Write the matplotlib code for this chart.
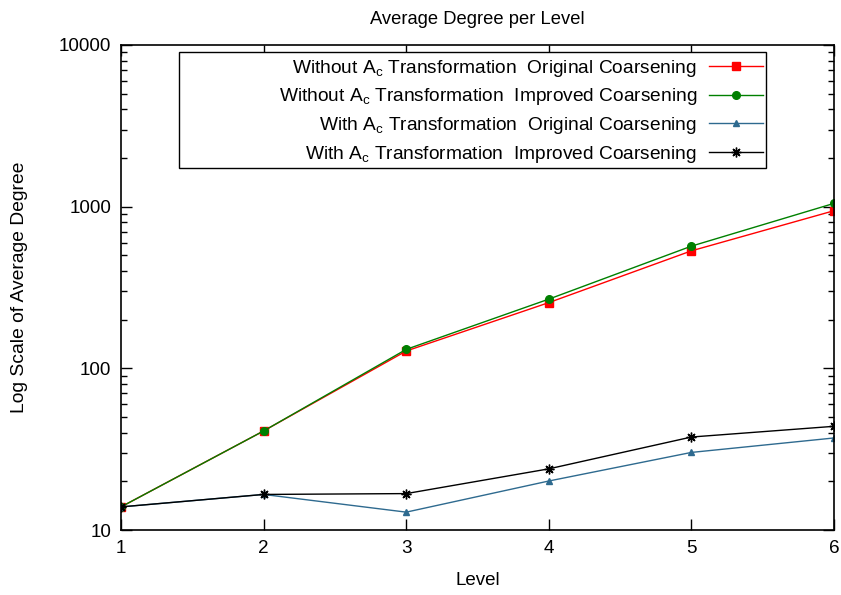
import matplotlib
matplotlib.use("Agg")
import matplotlib.pyplot as plt
from matplotlib.patches import Rectangle
from matplotlib.ticker import LogLocator, FixedLocator, NullFormatter

plt.rcParams['font.family'] = ['Liberation Sans', 'DejaVu Sans']
plt.rcParams['mathtext.fontset'] = 'custom'
plt.rcParams['mathtext.rm'] = 'Liberation Sans'
plt.rcParams['mathtext.it'] = 'Liberation Sans'

levels = [1, 2, 3, 4, 5, 6]
without_original = [13.9, 41, 128, 255, 533, 944]
without_improved = [13.9, 41, 131, 268, 570, 1048]
with_original = [13.9, 16.6, 12.9, 20.1, 30.2, 37.1]
with_improved = [13.9, 16.6, 16.8, 23.9, 37.6, 43.8]

labels = [
    r"Without A$_\mathrm{c}$ Transformation  Original Coarsening",
    r"Without A$_\mathrm{c}$ Transformation  Improved Coarsening",
    r"With A$_\mathrm{c}$ Transformation  Original Coarsening",
    r"With A$_\mathrm{c}$ Transformation  Improved Coarsening",
]

fig = plt.figure(figsize=(8.41, 5.95), dpi=100)
ax = fig.add_axes([0.1439, 0.1092, 0.8478, 0.8152])

ax.plot(levels, without_original, color='#ff0000', lw=1.0, marker='s', ms=5.5, label=labels[0])
ax.plot(levels, without_improved, color='#008000', lw=1.0, marker='o', ms=5.5, label=labels[1])
ax.plot(levels, with_original, color='#2e6a8f', lw=1.0, marker='^', ms=4.5, label=labels[2])
ax.plot(levels, with_improved, color='#000000', lw=1.0, marker=(8, 2, 0), ms=7, mew=1.0, label=labels[3])

ax.set_yscale('log')
ax.set_xlim(1, 6)
ax.set_ylim(10, 10000)
ax.xaxis.set_major_locator(FixedLocator(levels))
ax.yaxis.set_minor_locator(LogLocator(base=10, subs=range(2, 10), numticks=20))
ax.yaxis.set_minor_formatter(NullFormatter())
ax.set_yticks([10, 100, 1000, 10000])
ax.set_yticklabels(['10', '100', '1000', '10000'])

ax.tick_params(which='both', direction='in', top=True, right=True, labelsize=13.6, width=1.0)
ax.tick_params(which='major', length=8, pad=7)
ax.tick_params(which='minor', length=4)
for s in ax.spines.values():
    s.set_linewidth(1.2)

ax.set_title("Average Degree per Level", fontsize=13.2, pad=15)
ax.set_xlabel("Level", fontsize=13.5, labelpad=11)
ax.set_ylabel("Log Scale of Average Degree", fontsize=13.9, labelpad=22)

# key box: wide frame with right-aligned entries and samples on the right
ax.add_patch(Rectangle((0.0813, 0.7464), 0.9041 - 0.0813, 0.9856 - 0.7464,
                       transform=ax.transAxes, facecolor='white', edgecolor='black',
                       linewidth=1.0, zorder=4))
leg = ax.legend(loc='upper right', bbox_to_anchor=(0.9004, 0.974), markerfirst=False,
                fontsize=13.8, frameon=False, handlelength=2.82, labelspacing=0.40,
                borderpad=0, handletextpad=0.63, borderaxespad=0)
leg.set_zorder(5)

fig.savefig("out.png", dpi=100)
